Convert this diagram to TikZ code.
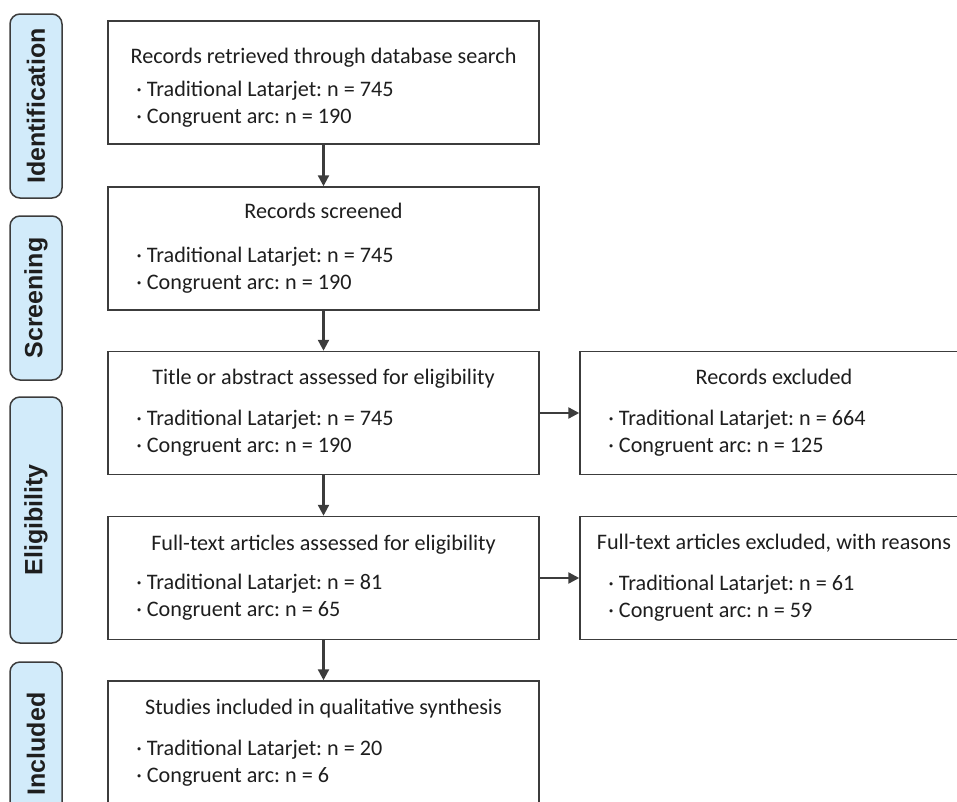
\documentclass[tikz,border=0pt]{standalone}
\usepackage{fontspec}
\setmainfont{Carlito}
\newfontfamily\phasefont{Liberation Sans}
\usetikzlibrary{arrows.meta, positioning}

\definecolor{PhaseBlue}{RGB}{210, 235, 250}
\definecolor{EdgeGray}{RGB}{60, 60, 60}
\definecolor{InkDark}{RGB}{30, 30, 30}

% title line, then two bullet lines
\newlength{\flowpad}
\newcommand{\flowtext}[5][8.4pt]{%
  \begin{minipage}{#2}\frenchspacing\vspace*{\flowpad}\centering #3\par\vspace{#1}\raggedright
    \hspace*{17pt}\textperiodcentered\ #4\par
    \hspace*{17pt}\textperiodcentered\ #5\end{minipage}}

\begin{document}
\begin{tikzpicture}[
        x=0.6pt, y=-0.6pt,
        every node/.style={text=InkDark},
        flowbox/.style={rectangle, draw=EdgeGray, line width=0.9pt, fill=white, inner sep=0pt,
            minimum width=258.6pt, minimum height=73.8pt, font=\fontsize{13.3}{16.2}\selectfont},
        sidebox/.style={flowbox, minimum width=232.8pt},
        phase/.style={rectangle, rounded corners=6pt, draw=EdgeGray, line width=0.9pt, fill=PhaseBlue,
            rotate=90, minimum height=31.2pt, inner sep=0pt, font=\phasefont\bfseries\fontsize{15}{18}\selectfont},
        arrow/.style={-{Triangle[length=6.5pt, width=6.5pt]}, line width=1.4pt, EdgeGray}
    ]
        \useasboundingbox (0,0) rectangle (957,801);
        \clip (0,0) rectangle (957,801);

        % Phase labels
        \node[phase, minimum width=110.4pt] (ident) at (36,106) {Identification};
        \node[phase, minimum width=98.4pt] (screen) at (36,298) {Screening};
        \node[phase, minimum width=147.6pt] (elig) at (36,520) {Eligibility};
        \node[phase, minimum width=98.4pt] (incl) at (36,744) {Included};

        % Main column
        \node[flowbox] (retrieved) at (323.5,82.5)
            {\setlength{\flowpad}{6pt}\flowtext[3.6pt]{258.6pt}{Records retrieved through database search}{Traditional Latarjet: n = 745}{Congruent arc: n = 190}};
        \node[flowbox] (screened) at (323.5,248.5)
            {\flowtext[10pt]{258.6pt}{Records screened}{Traditional Latarjet: n = 745}{Congruent arc: n = 190}};
        \node[flowbox] (abstract) at (323.5,413)
            {\flowtext{258.6pt}{Title or abstract assessed for eligibility}{Traditional Latarjet: n = 745}{Congruent arc: n = 190}};
        \node[flowbox] (fulltext) at (323.5,578)
            {\flowtext[7pt]{258.6pt}{Full-text articles assessed for eligibility}{Traditional Latarjet: n = 81}{Congruent arc: n = 65}};
        \node[flowbox] (included) at (323.5,742.5)
            {\flowtext{258.6pt}{Studies included in qualitative synthesis}{Traditional Latarjet: n = 20}{Congruent arc: n = 6}};

        % Excluded column
        \node[sidebox] (excl1) at (774,413)
            {\flowtext{232.8pt}{Records excluded}{Traditional Latarjet: n = 664}{Congruent arc: n = 125}};
        \node[sidebox] (excl2) at (774,578)
            {\flowtext{232.8pt}{Full-text articles excluded, with reasons}{Traditional Latarjet: n = 61}{Congruent arc: n = 59}};

        % Connectors
        \draw[arrow] (retrieved) -- (screened);
        \draw[arrow] (screened) -- (abstract);
        \draw[arrow] (abstract) -- (fulltext);
        \draw[arrow] (fulltext) -- (included);
        \draw[arrow] (abstract.east) -- (excl1.west);
        \draw[arrow] (fulltext.east) -- (excl2.west);
    \end{tikzpicture}
\end{document}
